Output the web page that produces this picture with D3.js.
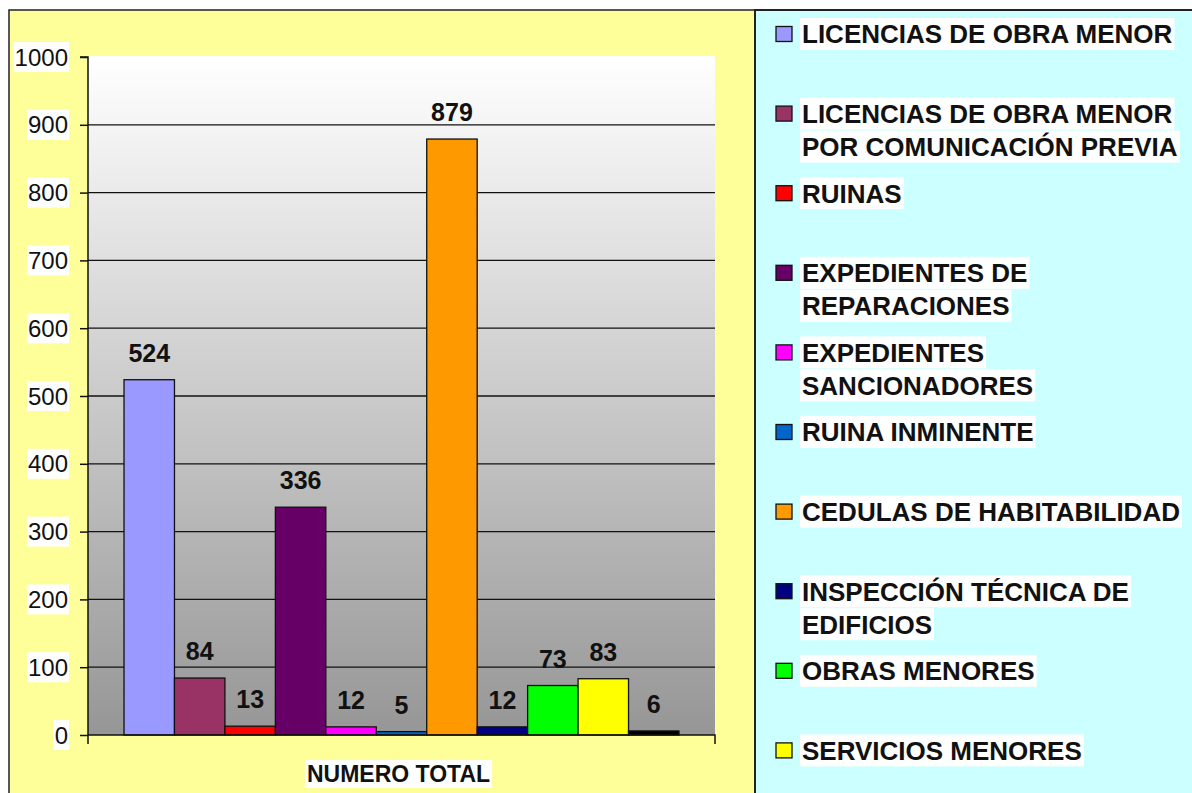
<!DOCTYPE html>
<html>
<head>
<meta charset="utf-8">
<script src="https://cdnjs.cloudflare.com/ajax/libs/d3/7.8.5/d3.min.js"></script>
<style>
  html, body { margin: 0; padding: 0; background: #fff; }
  svg { display: block; }
  text { font-family: "Liberation Sans", Arial, sans-serif; }
</style>
</head>
<body>
<div id="chart"></div>
<script>
(function () {
  // data
  const category = "NUMERO TOTAL";
  const seriesNames = [
    "LICENCIAS DE OBRA MENOR",
    "LICENCIAS DE OBRA MENOR POR COMUNICACIÓN PREVIA",
    "RUINAS",
    "EXPEDIENTES DE REPARACIONES",
    "EXPEDIENTES SANCIONADORES",
    "RUINA INMINENTE",
    "CEDULAS DE HABITABILIDAD",
    "INSPECCIÓN TÉCNICA DE EDIFICIOS",
    "OBRAS MENORES",
    "SERVICIOS MENORES",
    "" // 11th series, its legend entry is cut off in the picture
  ];
  const legendLines = [
    ["LICENCIAS DE OBRA MENOR"],
    ["LICENCIAS DE OBRA MENOR", "POR COMUNICACIÓN PREVIA"],
    ["RUINAS"],
    ["EXPEDIENTES DE", "REPARACIONES"],
    ["EXPEDIENTES", "SANCIONADORES"],
    ["RUINA INMINENTE"],
    ["CEDULAS DE HABITABILIDAD"],
    ["INSPECCIÓN TÉCNICA DE", "EDIFICIOS"],
    ["OBRAS MENORES"],
    ["SERVICIOS MENORES"]
  ];
  const values = [524, 84, 13, 336, 12, 5, 879, 12, 73, 83, 6];
  const colors = ["#9999FF", "#993366", "#FF0000", "#660066", "#FF00FF",
                  "#0066CC", "#FF9900", "#000080", "#00FF00", "#FFFF00", "#000000"];
  const yTicks = [0, 100, 200, 300, 400, 500, 600, 700, 800, 900, 1000];

  const W = 1192, H = 793;
  const plot = { left: 88, right: 715, top: 57, bottom: 735 };

  const svg = d3.select("#chart").append("svg")
    .attr("width", W)
    .attr("height", H);

  // outer chart area (yellow) and legend panel (cyan)
  svg.append("rect")
    .attr("x", 9).attr("y", 10)
    .attr("width", 747).attr("height", H)
    .attr("fill", "#FFFF99")
    .attr("stroke", "#222").attr("stroke-width", 1.5);

  svg.append("rect")
    .attr("x", 755).attr("y", 10)
    .attr("width", W).attr("height", H)
    .attr("fill", "#CCFFFF")
    .attr("stroke", "#222").attr("stroke-width", 2);

  // gradient for plot background
  const grad = svg.append("defs").append("linearGradient")
    .attr("id", "plotGrad")
    .attr("x1", 0).attr("y1", 0).attr("x2", 0).attr("y2", 1);
  grad.append("stop").attr("offset", "0%").attr("stop-color", "#FFFFFF");
  grad.append("stop").attr("offset", "100%").attr("stop-color", "#969696");

  svg.append("rect")
    .attr("x", plot.left).attr("y", plot.top - 1)
    .attr("width", plot.right - plot.left)
    .attr("height", plot.bottom - plot.top + 1)
    .attr("fill", "url(#plotGrad)");

  // scales
  const y = d3.scaleLinear().domain([0, 1000]).range([plot.bottom, plot.top]);
  const x0 = d3.scaleBand()
    .domain([category])
    .range([plot.left, plot.right])
    .paddingInner(0)
    .paddingOuter(0.0649);
  const x1 = d3.scaleBand()
    .domain(d3.range(values.length))
    .range([0, x0.bandwidth()])
    .padding(0);

  // gridlines
  svg.append("g")
    .selectAll("line")
    .data(yTicks.filter((d) => d > 0 && d < 1000))
    .join("line")
    .attr("x1", plot.left).attr("x2", plot.right)
    .attr("y1", (d) => y(d)).attr("y2", (d) => y(d))
    .attr("stroke", "#111")
    .attr("stroke-width", 1.3);

  // bars
  const gx = x0(category);
  svg.append("g")
    .selectAll("rect")
    .data(values)
    .join("rect")
    .attr("x", (d, i) => gx + x1(i))
    .attr("y", (d) => y(d))
    .attr("width", x1.bandwidth())
    .attr("height", (d) => y(0) - y(d))
    .attr("fill", (d, i) => colors[i])
    .attr("stroke", "#111")
    .attr("stroke-width", 1.3);

  // value labels
  svg.append("g")
    .selectAll("text")
    .data(values)
    .join("text")
    .attr("x", (d, i) => gx + x1(i) + x1.bandwidth() / 2)
    .attr("y", (d) => y(d) - 18)
    .attr("text-anchor", "middle")
    .attr("font-size", 25)
    .attr("font-weight", "bold")
    .attr("fill", "#111")
    .text((d) => d);

  // y axis
  const yAxis = d3.axisLeft(y).tickValues(yTicks).tickSize(8).tickPadding(0).tickFormat("");
  const yAxisG = svg.append("g")
    .attr("transform", `translate(${plot.left},0)`)
    .call(yAxis);
  yAxisG.select(".domain").attr("stroke", "#111").attr("stroke-width", 1.5)
    .attr("d", `M-8,${plot.top}H0V${plot.bottom + 9}`);
  yAxisG.selectAll(".tick line").attr("stroke", "#111").attr("stroke-width", 1.5);

  // tick labels with white boxes
  const tickG = svg.append("g")
    .selectAll("g")
    .data(yTicks)
    .join("g")
    .attr("transform", (d) => `translate(68,${y(d)})`);
  tickG.append("text")
    .attr("text-anchor", "end")
    .attr("dy", "0.36em")
    .attr("font-size", 24)
    .attr("fill", "#111")
    .text((d) => d);
  tickG.each(function () {
    const g = d3.select(this);
    const bb = g.select("text").node().getBBox();
    g.insert("rect", "text")
      .attr("x", bb.x - 1).attr("y", -15)
      .attr("width", bb.width + 2).attr("height", 30)
      .attr("fill", "#fff");
  });

  // x axis
  const xAxisG = svg.append("g")
    .attr("transform", `translate(0,${plot.bottom})`)
    .call(d3.axisBottom(x0).tickSize(0).tickFormat(""));
  xAxisG.select(".domain").attr("stroke", "#111").attr("stroke-width", 1.5)
    .attr("d", `M${plot.left},0H${plot.right}V9`);

  // category label
  const catG = svg.append("g")
    .attr("transform", `translate(${gx + x0.bandwidth() / 2 - 3},774)`);
  catG.append("text")
    .attr("text-anchor", "middle")
    .attr("dy", "0.36em")
    .attr("font-size", 23)
    .attr("font-weight", "bold")
    .attr("fill", "#111")
    .text(category);
  const cbb = catG.select("text").node().getBBox();
  catG.insert("rect", "text")
    .attr("x", cbb.x - 2).attr("y", -14)
    .attr("width", cbb.width + 4).attr("height", 28)
    .attr("fill", "#fff");

  // legend
  const legend = svg.append("g")
    .selectAll("g")
    .data(legendLines)
    .join("g")
    .attr("transform", (d, i) => `translate(776,${34 + i * 79.6})`);

  legend.append("rect")
    .attr("x", 0).attr("y", -7.5)
    .attr("width", 16).attr("height", 15)
    .attr("fill", (d, i) => colors[i])
    .attr("stroke", "#111")
    .attr("stroke-width", 1.3);

  legend.each(function (lines) {
    const g = d3.select(this);
    lines.forEach((line, j) => {
      const lg = g.append("g").attr("transform", `translate(26,${j * 33})`);
      const t = lg.append("text")
        .attr("dy", "0.36em")
        .attr("font-size", 26)
        .attr("font-weight", "bold")
        .attr("fill", "#111")
        .text(line);
      const bb = t.node().getBBox();
      lg.insert("rect", "text")
        .attr("x", -2).attr("y", -16)
        .attr("width", bb.width + 4).attr("height", 32)
        .attr("fill", "#fff");
    });
  });
})();
</script>
</body>
</html>
